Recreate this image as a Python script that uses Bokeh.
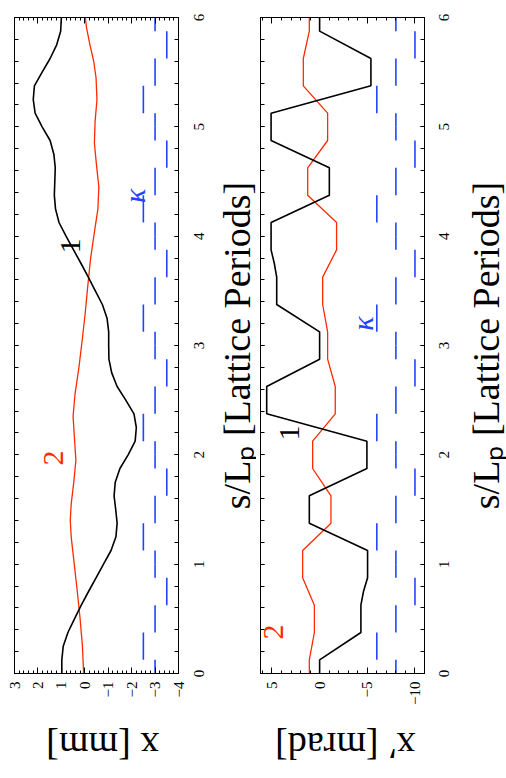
import math
from bokeh.plotting import figure
from bokeh.layouts import row, column
from bokeh.models import Range1d, LinearAxis, SingleIntervalTicker, ColumnDataSource
from bokeh.core.properties import value
from bokeh.embed import file_html
from bokeh.resources import INLINE

# ---------------- data ----------------
# panel 1 : x [mm] versus s/Lp
s_x1 = [0, 0.125, 0.25, 0.375, 0.5, 0.625, 0.75, 0.875, 1.0, 1.125, 1.25, 1.375, 1.5, 1.625,
        1.75, 1.875, 2.0, 2.125, 2.25, 2.375, 2.5, 2.625, 2.75, 2.875, 3.0, 3.125, 3.25, 3.375,
        3.5, 3.625, 3.75, 3.875, 4.0, 4.125, 4.25, 4.375, 4.5, 4.625, 4.75, 4.875, 5.0, 5.125,
        5.25, 5.375, 5.5, 5.625, 5.75, 5.875, 6.0]
x1 = [0.98, 0.98, 0.92, 0.72, 0.44, 0.15, -0.16, -0.48, -0.8, -1.12, -1.33, -1.38, -1.32, -1.25,
      -1.3, -1.5, -1.85, -2.15, -2.2, -2.1, -1.75, -1.38, -1.15, -1.03, -1.02, -1.02, -0.95, -0.75,
      -0.45, -0.15, 0.16, 0.48, 0.8, 1.1, 1.25, 1.3, 1.28, 1.26, 1.32, 1.48, 1.82, 2.12,
      2.2, 2.15, 1.82, 1.48, 1.2, 1.03, 1.0]
s_x2 = [0, 0.25, 0.5, 0.75, 1.0, 1.25, 1.4, 1.55, 1.75, 1.95, 2.15, 2.35, 2.55, 2.8, 3.05, 3.3,
        3.55, 3.8, 4.05, 4.25, 4.45, 4.65, 4.85, 5.05, 5.25, 5.45, 5.6, 5.75, 5.9, 6.0]
x2 = [0.05, 0.1, 0.2, 0.32, 0.45, 0.58, 0.62, 0.58, 0.47, 0.38, 0.44, 0.5, 0.42, 0.25, 0.11, -0.02,
      -0.13, -0.25, -0.42, -0.56, -0.6, -0.5, -0.41, -0.44, -0.52, -0.48, -0.38, -0.22, -0.08, -0.02]

# panel 2 : x' [mrad] versus s/Lp
s_xp1 = [0, 0.125, 0.375, 0.625, 0.75, 0.875, 1.125, 1.375, 1.625, 1.875, 2.125, 2.375, 2.625,
         2.875, 3.125, 3.375, 3.625, 3.75, 3.875, 4.125, 4.375, 4.625, 4.875, 5.125, 5.375,
         5.625, 5.875, 6.0]
xp1 = [0.0, 0.0, -4.33, -4.33, -4.6, -5.03, -5.03, 1.08, 1.08, -4.96, -4.96, 5.55, 5.55,
       0.0, 0.0, 4.5, 4.5, 4.75, 5.09, 5.09, -1.02, -1.02, 5.09, 5.09, -5.38,
       -5.38, 0.0, 0.0]
s_xp2 = [0, 0.125, 0.375, 0.625, 0.875, 1.125, 1.375, 1.625, 1.875, 2.125, 2.375, 2.625, 2.875,
         3.125, 3.375, 3.625, 3.875, 4.125, 4.375, 4.625, 4.875, 5.125, 5.375, 5.625, 5.875, 6.0]
xp2 = [1.08, 1.08, 0.55, 0.55, 1.78, 1.78, -1.19, -1.19, 0.73, 0.73, -1.64, -1.64, -0.84,
       -0.84, -0.32, -0.32, -1.78, -1.78, 1.25, 1.25, -0.84, -0.84, 1.71, 1.71, 1.08, 1.08]

# lattice focusing function kappa over one period (F and D quadrupoles)
kappa_start = [0.0, 0.125, 0.375, 0.625, 0.875]
kappa_end = [0.125, 0.375, 0.625, 0.875, 1.0]
kappa_val = [0, 1, 0, -1, 0]
n_periods = 6

s_ticks = [0, 1, 2, 3, 4, 5, 6]
x_mm_ticks = [3, 2, 1, 0, -1, -2, -3, -4]
x_mrad_ticks = [5, 0, -5, -10]
x_mm_range = (3, -4)
x_mrad_range = (6.2, -11.0)
s_label = "s/L\u209a [Lattice Periods]"

SERIF = "Liberation Serif"
BLACK = "#000000"
RED = "#ff2a00"
BLUE = "#2244ff"

H = 778
FRAME_W = 164
FRAME_H = 656
TOP = 17
PLOT_H = 718                     # main plots (frame + bottom tick labels)
PX_PER_S = FRAME_H / 6.0
SIDE_PAD = 16                    # helper strip extends 16 px above/below the frame


def minus(v):
    return ("\u2212" + str(abs(v))) if v < 0 else str(v)


def kappa_segments(offset, scale):
    s0, s1, lv = [], [], []
    for n in range(n_periods):
        for a, b, k in zip(kappa_start, kappa_end, kappa_val):
            s0.append(n + a)
            s1.append(n + b)
            lv.append(offset + scale * k)
    return s0, s1, lv


def bare(width, height, xr, yr, top=0, bottom=0):
    f = figure(width=width, height=height, output_backend="svg", toolbar_location=None,
               x_range=Range1d(*xr), y_range=Range1d(*yr), x_axis_type=None, y_axis_type=None,
               min_border_left=0, min_border_right=0, min_border_top=top,
               min_border_bottom=bottom)
    f.grid.visible = False
    f.outline_line_color = None
    f.background_fill_color = "white"
    f.border_fill_color = "white"
    return f


def make_panel(bl, br, xr, xint, tick_vals):
    width = bl + FRAME_W + br
    p = figure(width=width, height=PLOT_H, output_backend="svg", toolbar_location=None,
               x_range=Range1d(*xr), y_range=Range1d(0, 6),
               x_axis_type=None, y_axis_type=None,
               min_border_left=bl, min_border_right=br, min_border_top=TOP,
               min_border_bottom=PLOT_H - TOP - FRAME_H)
    p.grid.visible = False
    p.outline_line_color = "black"
    p.outline_line_width = 1
    p.background_fill_color = "white"
    p.border_fill_color = "white"

    xt = SingleIntervalTicker(interval=xint, num_minor_ticks=5)
    st = SingleIntervalTicker(interval=1, num_minor_ticks=5)
    overrides = {v: minus(v) for v in tick_vals}

    below = LinearAxis(ticker=xt, major_tick_in=6, major_tick_out=0, minor_tick_in=3,
                       minor_tick_out=0, major_label_orientation=math.pi / 2,
                       major_label_standoff=8, major_label_overrides=overrides,
                       major_label_text_font=SERIF, major_label_text_font_size="15px",
                       major_label_text_color="black")
    above = LinearAxis(ticker=xt, major_tick_in=6, major_tick_out=0, minor_tick_in=3,
                       minor_tick_out=0, major_label_text_color=None, major_label_standoff=0)
    right = LinearAxis(ticker=st, major_tick_in=4, major_tick_out=0, minor_tick_in=4,
                       minor_tick_out=0, major_label_text_color=None, major_label_standoff=0)
    left = LinearAxis(ticker=st, major_tick_in=4, major_tick_out=0, minor_tick_in=4,
                      minor_tick_out=0, major_label_text_color=None, major_label_standoff=0)
    for ax in (below, above, right, left):
        ax.axis_line_color = "black"
        ax.major_tick_line_color = "black"
        ax.minor_tick_line_color = "black"
    p.add_layout(below, "below")
    p.add_layout(above, "above")
    p.add_layout(right, "right")
    p.add_layout(left, "left")
    return p


def s_strip(width, tick_x, label_x):
    """Strip right of a panel carrying the s tick labels and the s axis title."""
    pad = SIDE_PAD / PX_PER_S
    f = bare(width, H, (0, width), (-pad, 6 + pad), top=TOP - SIDE_PAD,
             bottom=H - TOP - FRAME_H - SIDE_PAD)
    src = ColumnDataSource(dict(s=s_ticks, t=[str(v) for v in s_ticks],
                                x=[tick_x] * len(s_ticks)))
    f.text(x="x", y="s", text="t", source=src, angle=math.pi / 2, text_align="center",
           text_baseline="middle", text_font=value(SERIF), text_font_size="15px",
           text_color="black")
    f.text(x=[label_x], y=[3.0], text=[s_label], angle=math.pi / 2, text_align="center",
           text_baseline="middle", text_font=value(SERIF), text_font_size="38px",
           text_color="black")
    return f


def x_strip(width, label, label_x, label_y):
    """Strip under a panel carrying its (upside-down) axis title."""
    h = H - PLOT_H
    f = bare(width, h, (0, width), (h, 0))
    f.text(x=[label_x], y=[label_y], text=[label], angle=math.pi, text_align="center",
           text_baseline="middle", text_font=value(SERIF), text_font_size="38px",
           text_color="black")
    return f


def tag(p, x, y, text, color, italic=False, size="30px"):
    p.text(x=[x], y=[y], text=[text], angle=math.pi / 2, text_color=color,
           text_font=value(SERIF), text_font_style="italic" if italic else "normal",
           text_font_size=size, text_align="center", text_baseline="middle")


# ---------------- panel 1 ----------------
p1 = make_panel(14, 8, x_mm_range, 1, x_mm_ticks)
k0, k1, kl = kappa_segments(-3.0, 0.5)
p1.segment(x0=kl, y0=k0, x1=kl, y1=k1, line_color=BLUE, line_width=1.6)
p1.line(x=x2, y=s_x2, line_color=RED, line_width=1.3)
p1.line(x=x1, y=s_x1, line_color=BLACK, line_width=1.6)
tag(p1, 0.62, 3.91, "1", BLACK)
tag(p1, 1.35, 1.97, "2", RED)
tag(p1, -2.11, 4.37, "\u03ba", BLUE, italic=True, size="30px")

# ---------------- panel 2 ----------------
p2 = make_panel(4, 8, x_mrad_range, 5, x_mrad_ticks)
k0, k1, kl = kappa_segments(-8.0, 2.0)
p2.segment(x0=kl, y0=k0, x1=kl, y1=k1, line_color=BLUE, line_width=1.6)
p2.line(x=xp2, y=s_xp2, line_color=RED, line_width=1.3)
p2.line(x=xp1, y=s_xp1, line_color=BLACK, line_width=1.6)
tag(p2, 3.17, 2.2, "1", BLACK)
tag(p2, 4.85, 0.38, "2", RED)
tag(p2, -4.5, 3.2, "\u03ba", BLUE, italic=True, size="30px")

# ---------------- side strips with titles ----------------
xs1 = x_strip(186, "x [mm]", 100, 27)
ss1 = s_strip(70, 12, 50)
xs2 = x_strip(176, "x\u2032 [mrad]", 91, 27)
ss2 = s_strip(74, 11, 53)

layout = row(column(p1, xs1), ss1, column(p2, xs2), ss2)
open("out.html", "w").write(file_html(layout, INLINE))
